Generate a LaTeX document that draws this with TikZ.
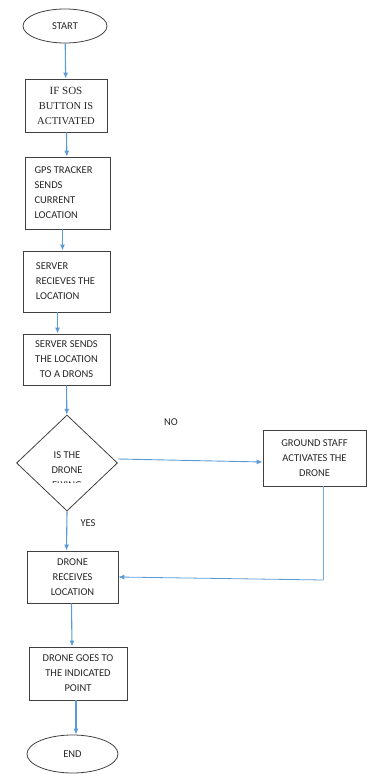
\documentclass[tikz,border=0pt]{standalone}
\usepackage{fontspec}
\setmainfont{Carlito}
\newfontfamily\timesfont{Liberation Serif}
\usetikzlibrary{arrows.meta}
\usetikzlibrary{shapes.geometric}
\definecolor{flowblue}{rgb}{0.357,0.608,0.835}
\definecolor{boxgray}{rgb}{0.25,0.25,0.25}

\begin{document}
\begin{tikzpicture}[x=1pt,y=1pt,
  every node/.style={font=\fontsize{10.5}{15}\selectfont,text=black!85},
  stepbox/.style={draw=boxgray,line width=0.8pt,inner sep=0pt},
  terminal/.style={ellipse,draw=boxgray,line width=0.8pt,inner sep=0pt},
  flow/.style={-{Latex[length=6pt,width=5pt]},line width=1.1pt,flowblue}]

\useasboundingbox (0,0) rectangle (367,774);

% terminals and steps
\node [terminal,minimum width=84,minimum height=34] (start) at (65,748) {START};
\node [stepbox,minimum width=82,minimum height=53,align=center] (sos) at (66,668.5)
      {\timesfont\fontsize{11}{15}\selectfont IF SOS\\\timesfont BUTTON IS\\\timesfont ACTIVATED};
\node [stepbox,minimum width=85,minimum height=72] (gps) at (67.5,581)
      {\begin{tabular}{@{}l@{}}GPS TRACKER\\SENDS\\CURRENT\\LOCATION\end{tabular}\hspace*{8pt}};
\node [stepbox,minimum width=87,minimum height=61] (recv) at (66.5,492.5)
      {\begin{tabular}{@{}l@{}}SERVER\\RECIEVES THE\\LOCATION\end{tabular}\hspace*{2pt}};
\node [stepbox,minimum width=87,minimum height=51,align=center] (sends) at (66.5,414.5)
      {SERVER SENDS\\THE LOCATION\\TO A DRONS};

% decision
\node [diamond,draw=boxgray,line width=0.8pt,minimum width=101,minimum height=96,
       inner sep=0pt] (cond) at (67,311) {};
\begin{scope}
  \clip (0,291) rectangle (367,774);
  \node [align=center] (condtext) at (67,304) {IS THE\\DRONE\\FLYING};
\end{scope}
\node [stepbox,minimum width=103,minimum height=56,align=center] (ground) at (314.5,316)
      {GROUND STAFF\\ACTIVATES THE\\DRONE};

\node [stepbox,minimum width=91,minimum height=52,align=center] (drecv) at (72.5,197)
      {DRONE\\RECEIVES\\LOCATION};
\node [stepbox,minimum width=98,minimum height=53,align=center] (goes) at (78,100.5)
      {DRONE GOES TO\\THE INDICATED\\POINT};
\node [terminal,minimum width=91,minimum height=38] (end) at (72.5,20) {END};

% labels
\node (no) at (171,352) {NO};
\node (yes) at (88,251) {YES};

% connectors
\draw [flow] (start) -- (sos);
\draw [flow] (sos) -- (gps);
\draw [flow] ([xshift=-5]gps.south) -- ([xshift=-4]recv.north);
\draw [flow] ([xshift=-9]recv.south) -- ([xshift=-9]sends.north);
\draw [flow] (sends) -- (cond);
\draw [flow,line width=0.9pt] ([yshift=4]cond.east) -- ([yshift=-4]ground.west);
\draw [flow] (cond.south) -- ([xshift=-6]drecv.north);
\draw [flow] ([xshift=-1]drecv.south) -- ([xshift=-6]goes.south |- goes.north);
\draw [flow] ([xshift=-2]goes.south) -- ([xshift=3.5]end.north);

\coordinate (turn) at (323,194);
\draw [line width=0.7pt,flowblue!80] ([xshift=8.5]ground.south) -- (turn);
\draw [flow,line width=0.8pt] (turn) -- (drecv.east);

\end{tikzpicture}
\end{document}
